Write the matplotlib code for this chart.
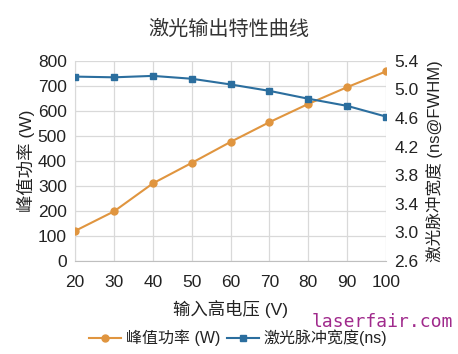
import matplotlib
matplotlib.use("Agg")
import matplotlib.pyplot as plt

plt.rcParams['font.family'] = ['Liberation Sans', 'Noto Sans CJK SC']

voltage = [20, 30, 40, 50, 60, 70, 80, 90, 100]
peak_power = [120, 198, 310, 392, 476, 555, 628, 695, 758]
pulse_width = [5.18, 5.17, 5.19, 5.15, 5.07, 4.98, 4.87, 4.77, 4.62]

left_ticks = [0, 100, 200, 300, 400, 500, 600, 700, 800]
right_ticks = [2.6, 3.0, 3.4, 3.8, 4.2, 4.6, 5.0, 5.4]

orange = "#E0953F"
blue = "#2B6E9E"
grid_c = "#D9D9D9"

fig = plt.figure(figsize=(4.58, 3.54), dpi=100, facecolor="white")
ax = fig.add_axes([0.164, 0.263, 0.679, 0.565])
ax2 = ax.twinx()

l1, = ax.plot(voltage, peak_power, color=orange, marker="o", markersize=5,
              linewidth=1.5, label="峰值功率 (W)", zorder=3)
l2, = ax2.plot(voltage, pulse_width, color=blue, marker="s", markersize=5,
               linewidth=1.5, label="激光脉冲宽度(ns)", zorder=3)

ax.set_xlim(20, 100)
ax.set_ylim(0, 800)
ax.set_yticks(left_ticks)
ax.set_xticks(voltage)
ax2.set_ylim(2.6, 5.4)
ax2.set_yticks(right_ticks)
ax2.set_yticklabels([f"{t:.1f}" for t in right_ticks])

ax.grid(True, color=grid_c, linewidth=0.9, zorder=0)
ax.set_axisbelow(True)
for a in (ax, ax2):
    a.tick_params(length=0, labelsize=12.5, colors="#222222")
    for s in a.spines.values():
        s.set_visible(False)
ax.spines["left"].set_visible(True)
ax.spines["left"].set_color(grid_c)
ax.spines["bottom"].set_visible(True)
ax.spines["bottom"].set_color("#BFBFBF")
ax.tick_params(axis="x", pad=10)
ax.tick_params(axis="y", pad=6)
ax2.tick_params(axis="y", pad=6)

ax.set_xlabel("输入高电压 (V)", fontsize=12.5, color="#222222", labelpad=7)
ax.set_ylabel("峰值功率 (W)", fontsize=12.5, color="#222222", labelpad=2)
ax2.set_ylabel("激光脉冲宽度 (ns@FWHM)", fontsize=12, color="#222222", labelpad=5)

fig.suptitle("激光输出特性曲线", x=0.5, y=0.945, fontsize=14.5, color="#333333")

fig.legend(handles=[l1, l2], loc="center", bbox_to_anchor=(0.52, 0.045), ncol=2,
           frameon=False, fontsize=11.5, handlelength=2.0, handletextpad=0.3,
           columnspacing=0.4, labelcolor="#222222")

fig.text(0.68, 0.09, "laserfair.com", family="DejaVu Sans Mono", fontsize=13,
         color="#A02A8C", va="center")

fig.savefig("out.png", dpi=100, facecolor="white")
